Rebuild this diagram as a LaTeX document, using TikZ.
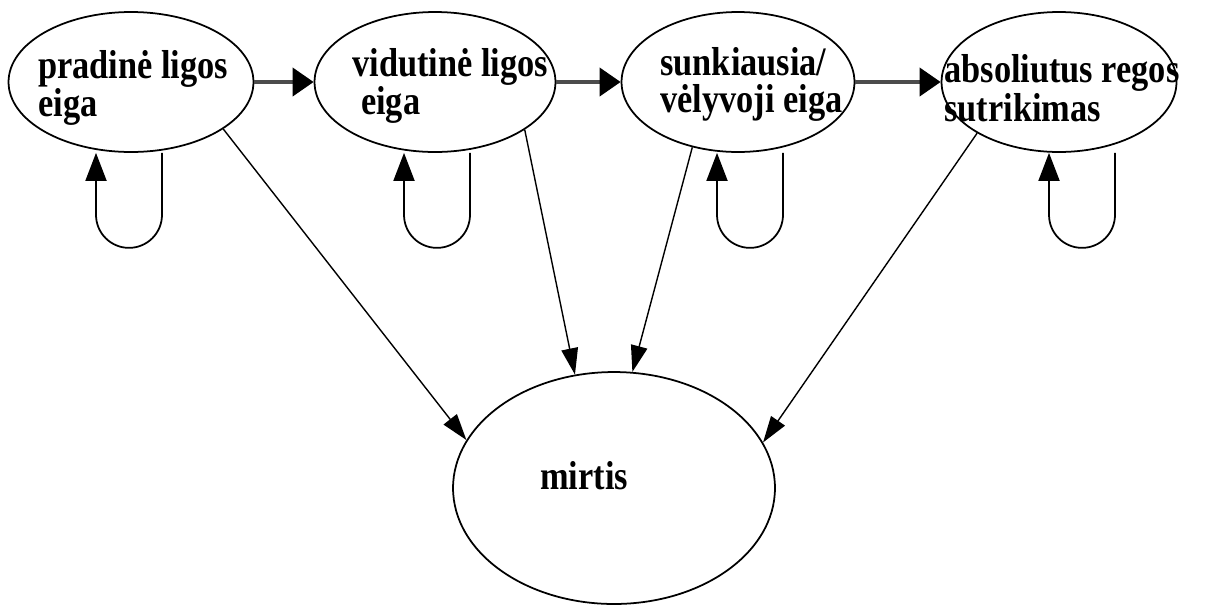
\documentclass[tikz,border=0pt]{standalone}
\usepackage{fontspec}
\setmainfont{Liberation Serif}[FakeStretch=0.85]
\usetikzlibrary{shapes.geometric,arrows.meta}

\begin{document}
\begin{tikzpicture}[
    x=0.02cm, y=0.02cm,
    state/.style={ellipse, draw, line width=1pt, inner sep=0pt, minimum height=2.8cm},
    lbl/.style={font=\bfseries\fontsize{23}{21}\selectfont, align=left, inner sep=0pt, anchor=west},
    fwd/.style={-{Triangle[length=12pt,width=16pt,color=black]}, line width=2.2pt, draw=black!70},
    todeath/.style={-{Triangle[length=15pt,width=9.5pt]}, line width=0.8pt},
    selfloop/.style={-{Triangle[length=16pt,width=12pt]}, line width=1pt}
]
\useasboundingbox (0,0) rectangle (1222,-606);

% Top row: stages of the disease
\node[state, minimum width=4.9cm] (pradine) at (131,-82) {};
\node[state, minimum width=4.82cm] (vidutine) at (435,-82) {};
\node[state, minimum width=4.66cm] (sunkiausia) at (738,-82) {};
\node[state, minimum width=4.7cm] (absoliutus) at (1059,-82) {};

% Bottom: death
\node[state, minimum width=6.44cm, minimum height=4.64cm] (mirtis) at (614,-488) {};

% Texts
\node[lbl] (t-pradine) at (38,-88) {pradinė ligos\\eiga};
\node[lbl] (t-vidutine) at (352,-86) {vidutinė ligos\\\hspace{5pt}eiga};
\node[lbl] (t-sunkiausia) at (660,-84) {sunkiausia/\\vėlyvoji eiga};
\node[lbl] (t-absoliutus) at (944,-88) {absoliutus regos\\sutrikimas};
\node[lbl] (t-mirtis) at (540,-476) {mirtis};

% Arrows between the stages
\draw[fwd] (pradine) -- (vidutine);
\draw[fwd] (vidutine) -- (sunkiausia);
\draw[fwd] (sunkiausia) -- (absoliutus);

% Self loops
\draw[selfloop] ([xshift=0.62cm]pradine.south) -- ++(0,-62) arc[start angle=0, end angle=-180, radius=0.66cm] -- ++(0,62);
\draw[selfloop] ([xshift=0.70cm]vidutine.south) -- ++(0,-62) arc[start angle=0, end angle=-180, radius=0.66cm] -- ++(0,62);
\draw[selfloop] ([xshift=0.90cm]sunkiausia.south) -- ++(0,-62) arc[start angle=0, end angle=-180, radius=0.66cm] -- ++(0,62);
\draw[selfloop] ([xshift=1.12cm]absoliutus.south) -- ++(0,-62) arc[start angle=0, end angle=-180, radius=0.66cm] -- ++(0,62);

% Arrows to death
\draw[todeath] (pradine.-27) -- (mirtis.162);
\draw[todeath] (vidutine.-28) -- (mirtis.109);
\draw[todeath] (sunkiausia.-125) -- (mirtis.81);
\draw[todeath] (absoliutus.212) -- (mirtis.17);

\end{tikzpicture}
\end{document}
